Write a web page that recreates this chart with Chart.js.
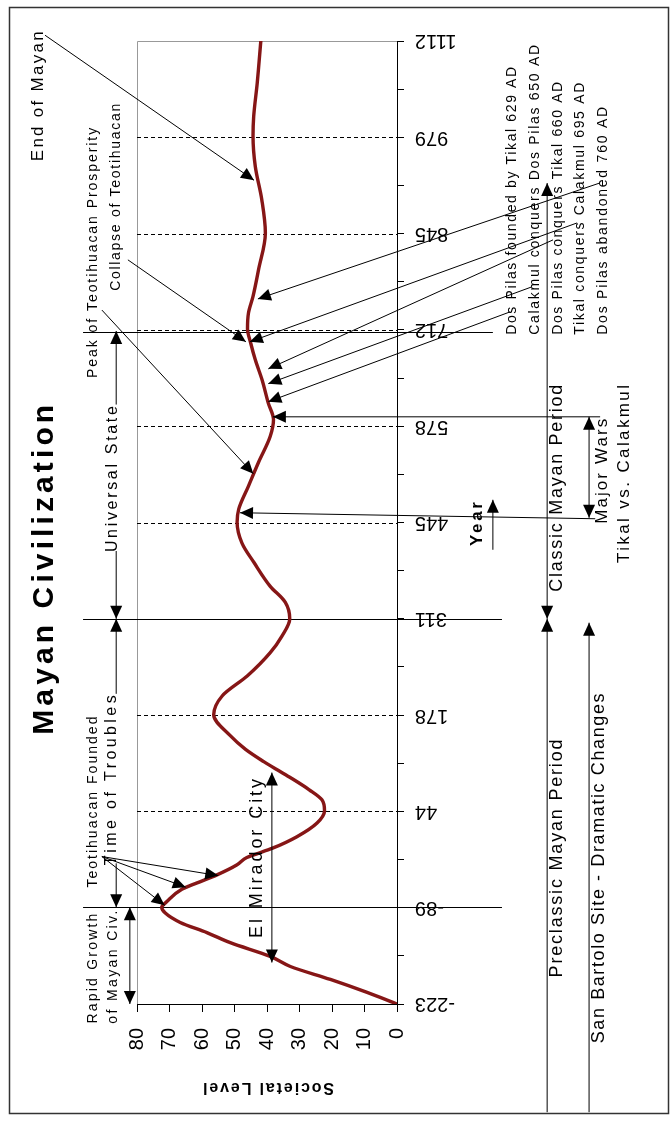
<!DOCTYPE html>
<html>
<head>
<meta charset="utf-8">
<title>Mayan Civilization</title>
<script src="https://cdn.jsdelivr.net/npm/chart.js@4.4.1/dist/chart.umd.min.js"></script>
<style>
  html, body { margin: 0; padding: 0; background: #fff; }
  #box { width: 670px; height: 1125px; }
</style>
</head>
<body>
<div id="box"><canvas id="chart" width="670" height="1125"></canvas></div>
<script>
// Societal level of the Mayan civilization
const years = [-223, -207, -189, -171, -157, -138, -124, -110, -97, -89, -81, -64, -55, -44, -30, -20, -7, 9, 28, 45,
    60, 74, 90, 102, 113, 130, 149, 178, 204, 232, 264, 287, 311, 334, 356, 389, 416, 445, 463, 495,
    528, 564, 587, 610, 642, 670, 693, 713, 735, 758, 795, 846, 892, 938, 980, 1007, 1054, 1112];
const levels = [0, 9.2, 20.5, 32.8, 39, 51.3, 58.5, 66.7, 71.3, 72.4, 70.8, 66.2, 61.5, 55.4, 49.2, 46.2, 38.3, 30.8, 24.6, 22.3,
    23.1, 27, 32.5, 37, 41, 46.6, 51.3, 56.4, 53.8, 46, 39, 35.4, 33, 34.4, 39, 44, 47.7, 49.2, 48.7, 45.7,
    42.6, 39, 38, 39.6, 41.5, 43.6, 45, 46, 45.7, 44.3, 42.6, 40.5, 41.6, 43.6, 44.3, 44.1, 43, 41.9];

// axes
const levelTicks = [0, 10, 20, 30, 40, 50, 60, 70, 80];
const levelLabels = ['0', '10', '20', '30', '40', '50', '60', '70', '80'];
const yearMajor = [-223, -89.5, 44, 177.5, 311, 444.5, 578, 711.5, 845, 978.5, 1112];
const yearLabels = ['-223', '-89', '44', '178', '311', '445', '578', '712', '845', '979', '1112'];
const yearMinor = [-156.25, -22.75, 110.75, 244.25, 377.75, 511.25, 644.75, 778.25, 911.75, 1045.25];
const yearGrid = [44, 177.5, 444.5, 578, 711.5, 845, 978.5];

// period boundaries: [year, level start, level end]
const periodLines = [[-89, 96.6, -32.3], [311, 96.6, -32.3], [709, 96.6, -29.5]];

// arrows in data units: [from year, from level, to year, to level, heads (1 = at end, 2 = both)]
const arrows = [
    // Teotihuacan Founded
    [-18.6, 90.8, -86, 71.5, 1],
    [-18.6, 90.8, -61, 65, 1],
    [-18.6, 90.8, -45, 55, 1],
    // End of Mayan / Teotihuacan
    [1120, 108.3, 919, 44, 1],
    [739, 90.8, 512, 44.2, 1],
    [808.6, 82.8, 695, 46.5, 1],
    // Dos Pilas / Tikal / Calakmul events
    [915.3, -62.5, 754.5, 42.8, 1],
    [859.8, -55.4, 695, 45.3, 1],
    [836.3, -48, 657.5, 39.6, 1],
    [771.2, -41.5, 637, 39.6, 1],
    [736.5, -34.8, 612, 39.6, 1],
    // Major Wars
    [591, -62.5, 591, 38.2, 1],
    [449.7, -61, 458, 48.3, 1],
    [591, -59.1, 451, -59.1, 2],
    // Year direction
    [406.7, -29.5, 476, -29.5, 1],
    // Classic / Preclassic / San Bartolo
    [311, -46.2, 915, -46.2, 2],
    [-373, -46.2, 311, -46.2, 1],
    [-373, -59.1, 305.6, -59.1, 1],
    // Universal State / Time of Troubles
    [405, 86.4, 311, 86.4, 1],
    [608, 86.4, 710, 86.4, 1],
    [-28, 86.4, -89, 86.4, 1],
    [207, 86.4, 311, 86.4, 1],
    // Rapid Growth / El Mirador
    [-223, 82.2, -89, 82.2, 2],
    [-165.5, 38.5, 97.8, 38.5, 2],
];

// labels: [text, year, level, length px, font px, bold, align]
const notes = [
    ['Mayan Civilization', 381.8, 108.3, 330, 30, true],
    ['End of Mayan', 1037, 110.5, 130, 17],
    ['Peak of Teotihuacan Prosperity', 819.6, 93.5, 250, 14],
    ['Collapse of Teotihuacan', 896.5, 86.5, 187, 14],
    ['Universal State', 506.5, 87.4, 146, 16],
    ['Time of Troubles', 89.4, 87.7, 170, 16],
    ['Teotihuacan Founded', 58.3, 93.5, 171, 14],
    ['Rapid Growth', -172.4, 93.5, 110, 14],
    ['of Mayan Civ.', -170.3, 87.4, 113, 14],
    ['El Mirador City', -19.3, 43.1, 159, 18],
    ['Dos Pilas founded by Tikal 629 AD', 704.7, -35.4, 268, 14, false, 'left'],
    ['Calakmul conquers Dos Pilas 650 AD', 704.7, -42.5, 290, 14, false, 'left'],
    ['Dos Pilas conquers Tikal 660 AD', 704.7, -49.5, 253, 14, false, 'left'],
    ['Tikal conquers Calakmul 695 AD', 704.7, -56.3, 252, 14, false, 'left'],
    ['Dos Pilas abandoned 760 AD', 704.7, -63.4, 228, 14, false, 'left'],
    ['Classic Mayan Period', 493.3, -49.1, 207, 18],
    ['Preclassic Mayan Period', -20, -49.1, 238, 18],
    ['San Bartolo Site - Dramatic Changes', -33.9, -62.2, 350, 18],
    ['Major Wars', 516.9, -63.1, 105, 17],
    ['Tikal vs. Calakmul', 513.4, -69.8, 178, 17],
    ['Year', 444.2, -24.6, 44, 17, true],
];

const FONT = '"Liberation Sans", Arial, sans-serif';
const UP = -Math.PI / 2;

function drawText(ctx, str, px, py, size, opt) {
    ctx.save();
    ctx.translate(px, py);
    ctx.rotate(opt.rot === undefined ? UP : opt.rot);
    ctx.font = (opt.bold ? 'bold ' : '') + size + 'px ' + FONT;
    ctx.fillStyle = '#000';
    ctx.textAlign = opt.align || 'center';
    ctx.textBaseline = 'middle';
    if (opt.len) {
        const w = ctx.measureText(str).width;
        const ls = (opt.len - w) / Math.max(1, str.length - 1);
        ctx.letterSpacing = ls.toFixed(2) + 'px';
    }
    ctx.fillText(str, 0, 0);
    ctx.restore();
}

function head(ctx, x0, y0, x1, y1) {
    const a = Math.atan2(y1 - y0, x1 - x0);
    const L = 13, W = 6;
    ctx.beginPath();
    ctx.moveTo(x1, y1);
    ctx.lineTo(x1 - L * Math.cos(a) - W * Math.sin(a), y1 - L * Math.sin(a) + W * Math.cos(a));
    ctx.lineTo(x1 - L * Math.cos(a) + W * Math.sin(a), y1 - L * Math.sin(a) - W * Math.cos(a));
    ctx.closePath();
    ctx.fill();
}

const decor = {
    id: 'decor',
    beforeDraw(chart) {
        const ctx = chart.ctx;
        ctx.save();
        ctx.fillStyle = '#fff';
        ctx.fillRect(0, 0, chart.width, chart.height);
        ctx.strokeStyle = '#333';
        ctx.lineWidth = 1.5;
        ctx.strokeRect(9.5, 7.5, 659, 1106);
        ctx.restore();
    },
    beforeDatasetsDraw(chart) {
        const { ctx, chartArea: a, scales: { x, y } } = chart;
        ctx.save();
        ctx.lineWidth = 1;
        // plot frame
        ctx.strokeStyle = '#999';
        ctx.beginPath();
        ctx.moveTo(a.left + 0.5, a.bottom);
        ctx.lineTo(a.left + 0.5, a.top + 0.5);
        ctx.lineTo(a.right, a.top + 0.5);
        ctx.stroke();
        // dashed year gridlines
        ctx.strokeStyle = '#000';
        ctx.setLineDash([4, 3]);
        yearGrid.forEach(v => {
            const py = Math.round(y.getPixelForValue(v)) + 0.5;
            ctx.beginPath();
            ctx.moveTo(a.left, py);
            ctx.lineTo(a.right, py);
            ctx.stroke();
        });
        ctx.setLineDash([]);
        // period boundaries
        periodLines.forEach(([yr, l0, l1]) => {
            const py = Math.round(y.getPixelForValue(yr)) + 0.5;
            ctx.beginPath();
            ctx.moveTo(x.getPixelForValue(l0), py);
            ctx.lineTo(x.getPixelForValue(l1), py);
            ctx.stroke();
        });
        ctx.restore();
    },
    afterDraw(chart) {
        const { ctx, chartArea: a, scales: { x, y } } = chart;
        ctx.save();
        ctx.strokeStyle = '#000';
        ctx.fillStyle = '#000';
        ctx.lineWidth = 1;
        arrows.forEach(([y0, l0, y1, l1, heads]) => {
            const x0 = x.getPixelForValue(l0), p0 = y.getPixelForValue(y0);
            const x1 = x.getPixelForValue(l1), p1 = y.getPixelForValue(y1);
            ctx.beginPath();
            ctx.moveTo(x0, p0);
            ctx.lineTo(x1, p1);
            ctx.stroke();
            head(ctx, x0, p0, x1, p1);
            if (heads === 2) head(ctx, x1, p1, x0, p0);
        });
        ctx.restore();

        notes.forEach(([str, yr, lv, len, size, bold, align]) => {
            drawText(ctx, str, x.getPixelForValue(lv), y.getPixelForValue(yr), size, { len, bold, align });
        });

        // tick labels
        yearMajor.forEach((v, i) => {
            drawText(ctx, yearLabels[i], a.right + 18, y.getPixelForValue(v), 20, { rot: Math.PI, align: 'right' });
        });
        levelTicks.forEach((v, i) => {
            drawText(ctx, levelLabels[i], x.getPixelForValue(v), a.bottom + 24, 20, { align: 'right' });
        });
        drawText(ctx, 'Societal Level', x.getPixelForValue(39.8), y.getPixelForValue(-338.7), 16,
            { rot: Math.PI, bold: true, len: 131 });
    }
};

new Chart(document.getElementById('chart'), {
    type: 'line',
    data: {
        datasets: [{
            data: years.map((yr, i) => ({ x: levels[i], y: yr })),
            borderColor: '#861616',
            borderWidth: 3.4,
            borderCapStyle: 'round',
            borderJoinStyle: 'round',
            pointRadius: 0,
            cubicInterpolationMode: 'monotone',
            fill: false,
        }],
    },
    options: {
        indexAxis: 'y',
        responsive: false,
        animation: false,
        events: [],
        layout: { padding: { left: 137, top: 41, right: 266, bottom: 113 } },
        plugins: { legend: { display: false }, tooltip: { enabled: false } },
        scales: {
            x: {
                type: 'linear', position: 'bottom', reverse: true, min: 0, max: 80,
                afterBuildTicks: s => { s.ticks = levelTicks.map(v => ({ value: v })); },
                afterFit: s => { s.height = 8; },
                ticks: { display: false },
                grid: { drawOnChartArea: false, tickLength: 8, color: '#000' },
                border: { color: '#000', width: 1 },
            },
            y: {
                type: 'linear', position: 'right', min: -223, max: 1112,
                afterBuildTicks: s => {
                    s.ticks = yearMajor.concat(yearMinor).sort((p, q) => p - q).map(v => ({ value: v }));
                },
                afterFit: s => { s.width = 7; },
                ticks: { display: false },
                grid: { drawOnChartArea: false, tickLength: 7, color: '#000' },
                border: { color: '#000', width: 1 },
            },
        },
    },
    plugins: [decor],
});
</script>
</body>
</html>
